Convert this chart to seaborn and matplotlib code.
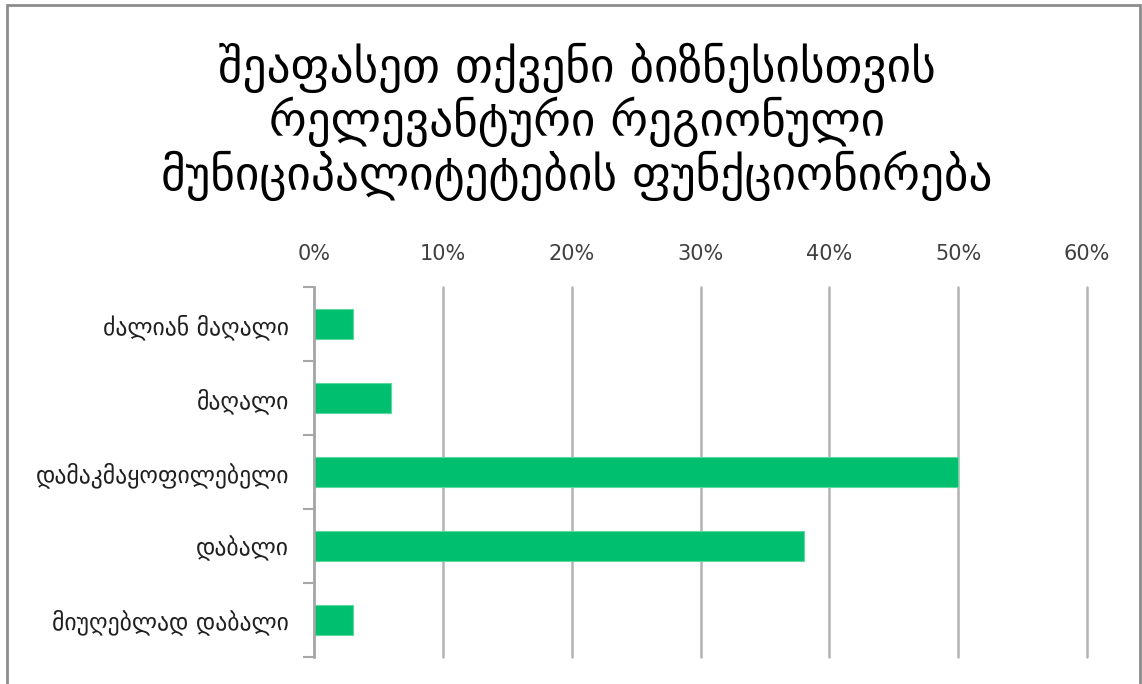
import matplotlib
matplotlib.use("Agg")
import matplotlib.pyplot as plt
import numpy as np
import pandas as pd
import seaborn as sns
from matplotlib.ticker import FixedLocator, PercentFormatter
from matplotlib.patches import Rectangle

categories = ["ძალიან მაღალი", "მაღალი", "დამაკმაყოფილებელი", "დაბალი", "მიუღებლად დაბალი"]
shares = [3, 6, 50, 38, 3]
title = "შეაფასეთ თქვენი ბიზნესისთვის\nრელევანტური რეგიონული\nმუნიციპალიტეტების ფუნქციონირება"

data = pd.DataFrame({"category": categories, "share": shares})

sns.set_style("white")
plt.rcParams["font.family"] = ["DejaVu Sans"]

fig = plt.figure(figsize=(11.42, 6.84), dpi=100)
ax = fig.add_axes([0.275, 0.04, 0.677, 0.54])

sns.barplot(data=data, x="share", y="category", orient="h", color="#00bf6f",
            saturation=1, width=0.41, edgecolor="#5fd89f", linewidth=0.8, ax=ax)

ax.set_xlim(0, 60)
ax.set_ylim(4.5, -0.5)
ax.xaxis.tick_top()
ax.set_xticks(np.arange(0, 61, 10))
ax.xaxis.set_major_formatter(PercentFormatter(decimals=0))
ax.tick_params(axis="x", length=0, pad=17, labelsize=15, colors="#404040")
ax.grid(axis="x", color="#b3b3b3", linewidth=1.8)
for gl in ax.get_xgridlines():
    gl.set_clip_on(False)
ax.set_axisbelow(True)

ax.yaxis.set_minor_locator(FixedLocator(np.arange(-0.5, 5, 1)))
ax.tick_params(axis="y", which="major", left=False, length=0, pad=18, labelsize=17,
               colors="#202020")
ax.tick_params(axis="y", which="minor", left=True, length=8, width=1.5, color="#a6a6a6")
ax.set_xlabel("")
ax.set_ylabel("")

for side in ["top", "right", "bottom"]:
    ax.spines[side].set_visible(False)
ax.spines["left"].set_color("#a6a6a6")
ax.spines["left"].set_linewidth(1.8)

fig.text(0.505, 0.937, title, ha="center", va="top", fontsize=34,
         linespacing=1.08, color="#000000")

fig.patches.append(Rectangle((0.006, -0.02), 0.992, 1.012, transform=fig.transFigure,
                             fill=False, edgecolor="#8c8c8c", linewidth=2))

fig.savefig("out.png", dpi=100)
